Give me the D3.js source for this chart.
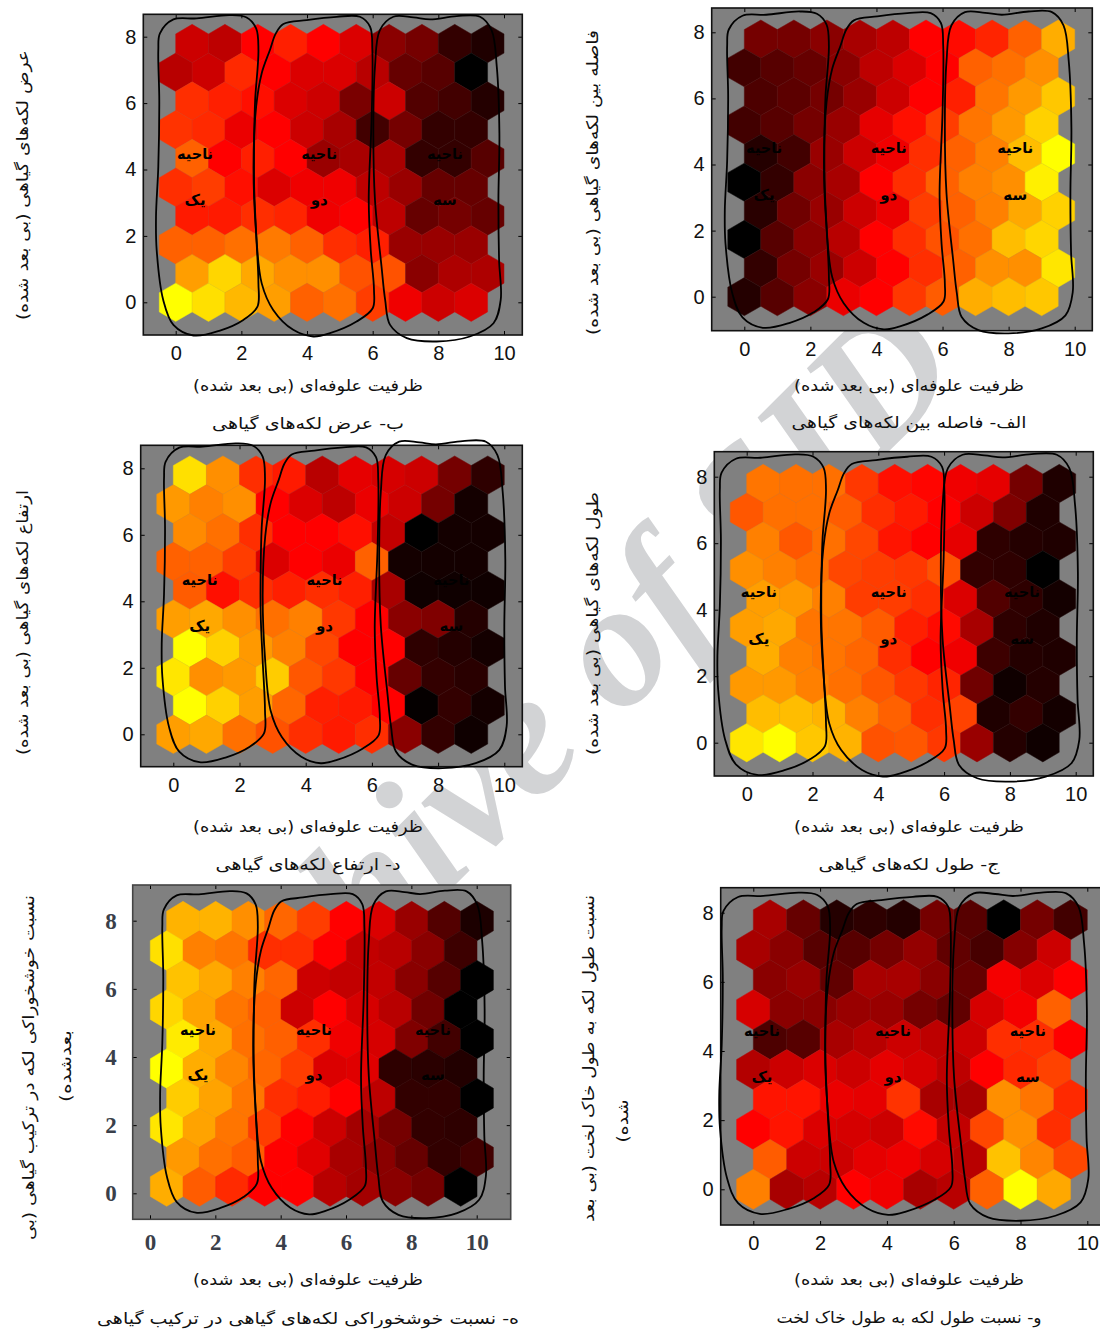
<!DOCTYPE html>
<html lang="fa">
<head>
  <meta charset="utf-8" />
  <title>SOM planes</title>
  <script src="https://d3js.org/d3.v7.min.js"></script>
  <style>
    html, body { margin: 0; padding: 0; background: #fff; overflow: hidden; }
    svg { display: block; }
    .ax text { font-family: "Liberation Sans", Arial, sans-serif; font-size: 20px; fill: #111; }
    .axE text { font-family: "Liberation Serif", serif; font-size: 23px; font-weight: bold; fill: #3a3f4a; }
    .fa { font-family: "DejaVu Sans", sans-serif; direction: rtl; fill: #111; }
  </style>
</head>
<body>
<div id="chart"></div>
<script>
// colour value of every hexagon, 0 = black, 50 = red, 100 = yellow
// rows run from the top of the map down to y = 0
const planeA = [
  [23,23,27,33,37,50,52,57,69,84],
  [13,17,20,27,37,43,50,69,72,78],
  [15,18,23,30,40,50,56,73,80,89],
  [13,17,23,30,45,53,62,73,80,91],
  [7,13,30,40,47,59,69,75,87,100],
  [0,10,27,33,50,59,69,75,78,97],
  [8,22,30,40,46,62,69,75,83,91],
  [0,17,27,36,50,59,66,72,87,92],
  [10,23,30,40,50,59,69,78,78,95],
  [7,17,27,46,50,61,68,84,87,89]
];
const planeB = [
  [40,37,50,56,50,43,27,23,10,6],
  [36,40,58,50,43,43,36,20,17,0],
  [59,56,53,43,40,24,40,16,13,7],
  [60,58,46,50,40,33,13,23,10,10],
  [69,50,56,50,30,33,33,10,10,17],
  [59,62,53,43,47,47,37,30,20,20],
  [55,55,59,57,47,50,37,20,23,20],
  [69,69,72,74,69,59,56,30,30,30],
  [81,92,83,78,78,66,66,27,34,34],
  [100,94,86,81,69,72,62,47,40,43]
];
const planeC = [
  [73,72,72,61,53,51,47,45,23,6],
  [67,72,72,68,59,55,50,40,25,6],
  [75,67,72,64,54,50,45,9,7,6],
  [78,75,72,64,62,61,66,10,9,0],
  [81,80,75,62,62,59,43,16,9,4],
  [81,83,73,73,68,56,52,33,9,6],
  [84,75,73,70,59,50,47,12,7,6],
  [80,80,75,72,67,61,57,22,3,7],
  [87,87,85,75,69,59,63,6,10,4],
  [95,100,89,85,66,67,61,30,7,3]
];
const planeD = [
  [94,78,59,55,36,45,42,40,23,9],
  [80,75,78,50,43,37,46,40,23,4],
  [77,72,59,50,50,53,38,0,4,4],
  [69,69,62,43,50,46,69,4,4,4],
  [68,53,59,56,59,56,33,3,3,3],
  [81,83,78,72,75,61,50,27,25,7],
  [100,91,80,75,64,50,50,9,7,4],
  [95,78,80,90,67,61,50,20,10,8],
  [100,91,81,70,56,55,50,1,10,4],
  [81,83,72,66,59,55,59,27,10,3]
];
const planeE = [
  [85,85,78,70,62,50,43,30,16,6],
  [94,75,73,59,59,50,38,36,27,12],
  [88,83,75,70,40,38,38,27,17,0],
  [92,82,73,69,40,50,42,36,22,0],
  [96,83,72,69,59,47,42,25,13,0],
  [100,84,76,70,62,43,44,9,8,7],
  [90,82,73,59,55,50,37,10,10,0],
  [95,82,73,62,50,40,32,23,10,9],
  [80,72,68,50,44,33,27,20,10,13],
  [84,68,58,51,50,36,32,27,23,0]
];
const planeF = [
  [33,20,7,9,7,23,17,0,23,13],
  [33,27,17,17,23,29,19,14,26,40],
  [27,30,19,33,33,27,20,48,43,50],
  [42,27,27,30,30,23,19,42,48,69],
  [15,17,33,36,40,37,40,59,59,50],
  [35,40,43,40,45,42,37,50,58,63],
  [54,54,46,45,60,33,33,78,73,58],
  [50,54,43,42,40,52,38,64,78,59],
  [68,40,40,45,47,42,36,88,76,64],
  [75,33,36,50,47,33,36,69,100,83]
];

const xTicks = [0, 2, 4, 6, 8, 10];
const yTicks = [0, 2, 4, 6, 8];

// hand drawn regions, in map units
const regionOne = [[-.48,8.10],[-.07,8.52],[.64,8.55],[1.65,8.65],[2.16,8.58],[2.45,8.25],[2.52,7.60],[2.42,6.09],[2.39,4.89],[2.39,3.48],[2.45,2.08],[2.52,.57],[2.49,-.13],[2.06,-.53],[1.35,-.85],[.54,-1.0],[-.07,-.68],[-.38,.07],[-.58,1.58],[-.60,2.58],[-.53,4.09],[-.50,6.09],[-.53,7.60]];
const regionTwo = [[3.05,8.10],[3.28,8.38],[3.99,8.50],[4.90,8.60],[5.61,8.60],[5.92,8.30],[5.99,7.60],[5.97,5.59],[5.88,3.08],[5.94,1.58],[6.04,.37],[6.00,-.18],[5.51,-.58],[4.70,-.93],[4.19,-1.03],[3.58,-.83],[2.97,-.23],[2.62,.57],[2.45,2.08],[2.37,4.09],[2.45,5.89],[2.62,6.90],[2.87,7.60]];
const regionThree = [[6.22,8.20],[6.63,8.60],[7.24,8.58],[7.75,8.52],[8.56,8.62],[9.27,8.60],[9.62,8.20],[9.78,7.10],[9.86,5.09],[9.83,3.08],[9.85,1.28],[9.90,.07],[9.68,-.63],[8.96,-1.03],[7.95,-1.18],[7.04,-1.08],[6.53,-.68],[6.38,.07],[6.27,1.07],[6.07,3.08],[6.02,5.09],[6.07,7.10]];

const upperWord = "ناحیه";
const lowerWords = ["یک", "دو", "سه"];
const xTitle = "ظرفیت علوفه‌ای (بی بعد شده)";

const panels = [
  { values: planeB, frame: [143.3, 522.3, 14.3, 335], xr: [175.7, 504], yr: [302.3, 36.7],
    boxes: [[-.60,2.52,8.65,-1.0],[2.37,6.04,8.60,-1.03],[6.02,9.90,8.62,-1.18]],
    labelX: [.59,4.37,8.2], labelY: [4.47,3.08],
    yTitle: ["عرض لکه‌های گیاهی (بی بعد شده)"], yTitleAt: [[22,185]], yTitleLen: [270],
    titleAt: [308,385], caption: "ب- عرض لکه‌های گیاهی", captionAt: [308,423], captionLen: 192 },
  { values: planeA, frame: [711.7, 1092.3, 8, 330.7], xr: [744.3, 1074.7], yr: [296.7, 32.3],
    boxes: [[-.59,2.56,8.63,-.94],[2.41,6.07,8.58,-.99],[6.07,9.94,8.63,-1.11]],
    labelX: [.6,4.37,8.2], labelY: [4.5,3.07],
    yTitle: ["فاصله بین لکه‌های گیاهی (بی بعد شده)"], yTitleAt: [[592,182.5]], yTitleLen: [305],
    titleAt: [909,385], caption: "الف- فاصله بین لکه‌های گیاهی", captionAt: [909,422], captionLen: 235 },
  { values: planeD, frame: [140.7, 522.3, 445.3, 766.7], xr: [173.3, 504.3], yr: [734.3, 468.3],
    boxes: [[-.35,2.77,8.75,-.84],[2.70,6.24,8.63,-.87],[6.22,10.07,8.82,-1.02]],
    labelX: [.8,4.57,8.4], labelY: [4.64,3.27],
    yTitle: ["ارتفاع لکه‌های گیاهی (بی بعد شده)"], yTitleAt: [[22,622.5]], yTitleLen: [265],
    titleAt: [308,826], caption: "د- ارتفاع لکه‌های گیاهی", captionAt: [308,864], captionLen: 185 },
  { values: planeC, frame: [714.3, 1093.3, 451.7, 776], xr: [746.7, 1075.7], yr: [742.7, 476.7],
    boxes: [[-.89,2.41,8.67,-.97],[2.25,6.06,8.60,-1.02],[5.90,10.11,8.68,-1.17]],
    labelX: [.37,4.32,8.37], labelY: [4.53,3.13],
    yTitle: ["طول لکه‌های گیاهی (بی بعد شده)"], yTitleAt: [[592,623.5]], yTitleLen: [263],
    titleAt: [909,826], caption: "ج- طول لکه‌های گیاهی", captionAt: [909,864], captionLen: 181 },
  { values: planeE, frame: [132.7, 510.7, 885, 1219.3], xr: [150, 476.7], yr: [1193.3, 920.7],
    shiftX: .51, shiftY: .196, blurred: true,
    boxes: [[.31,3.30,8.87,-.57],[3.16,6.61,8.78,-.62],[6.65,10.28,8.88,-.73]],
    labelX: [1.47,5.02,8.66], labelY: [4.79,3.46],
    yTitle: ["نسبت خوشخوراکی لکه در ترکیب گیاهی (بی", "بعدشده)"], yTitleAt: [[28,1067.5],[65,1066]], yTitleLen: [345,72],
    titleAt: [308,1279], caption: "ه- نسبت خوشخوراکی لکه‌های گیاهی در ترکیب گیاهی", captionAt: [308,1318], captionLen: 422 },
  { values: planeF, frame: [720.7, 1105, 887.7, 1225], xr: [753.3, 1087.3], yr: [1189.3, 912.7],
    boxes: [[-1.02,2.30,8.58,-.71],[2.15,5.96,8.46,-.74],[5.96,10.03,8.58,-.91]],
    labelX: [.26,4.18,8.22], labelY: [4.58,3.25],
    yTitle: ["نسبت طول لکه به طول خاک لخت (بی بعد", "شده)"], yTitleAt: [[588,1058.5],[622,1121]], yTitleLen: [327,43],
    titleAt: [909,1279], caption: "و- نسبت طول لکه به طول خاک لخت", captionAt: [909,1317], captionLen: 265 }
];

const xTitleLen = 230;
const titleSize = 16;

const w = 1100;
const h = 1332;

const svg = d3.select("#chart").append("svg")
    .attr("width", w)
    .attr("height", h);

svg.append("defs").append("filter")
    .attr("id", "soft")
    .append("feGaussianBlur")
    .attr("stdDeviation", 0.55);

// faint watermark sits under everything
svg.append("text")
    .attr("transform", "translate(575,765) rotate(-45)")
    .attr("text-anchor", "middle")
    .attr("font-family", "Liberation Serif, serif")
    .attr("font-weight", "bold")
    .attr("font-style", "italic")
    .attr("font-size", 178)
    .attr("fill", "#d2d3d5")
    .text("Archive of SID");

// black -> red -> yellow, same as the hot map
const color = d3.scaleLinear()
    .domain([0, 50, 100])
    .range(["#000000", "#ff0000", "#ffff00"]);

const rowStep = Math.sqrt(3) / 2;
const hexRadius = 1 / Math.sqrt(3);

// small helper for the persian strings, textLength keeps them at the printed width
function faText(parent, str, size, len) {
  const t = parent.append("text")
      .attr("class", "fa")
      .attr("text-anchor", "middle")
      .attr("dominant-baseline", "central")
      .attr("font-size", size)
      .text(str);
  if (len) {
    t.attr("textLength", len).attr("lengthAdjust", "spacingAndGlyphs");
  }
  return t;
}

panels.forEach(p => {
  const x = d3.scaleLinear().domain([0, 10]).range(p.xr);
  const y = d3.scaleLinear().domain([0, 8]).range(p.yr);
  const [left, right, top, bottom] = p.frame;
  const dx = p.shiftX || 0;
  const dy = p.shiftY || 0;

  const g = svg.append("g");

  g.append("rect")
      .attr("x", left)
      .attr("y", top)
      .attr("width", right - left)
      .attr("height", bottom - top)
      .attr("fill", "#808080");

  // flatten rows to one list of cells, row 0 is the top of the map
  const cells = p.values.flatMap((row, r) => row.map((v, c) => {
    const fromBottom = p.values.length - 1 - r;
    return {
      v: v,
      cx: c + dx + (fromBottom % 2 ? 0.5 : 0),
      cy: fromBottom * rowStep + dy
    };
  }));

  const hexLine = d3.line().x(d => x(d[0])).y(d => y(d[1]));
  const hexPath = d => hexLine(d3.range(6).map(k => {
    const a = Math.PI / 6 + k * Math.PI / 3;
    return [d.cx + hexRadius * Math.cos(a), d.cy + hexRadius * Math.sin(a)];
  })) + "Z";

  g.append("g")
      .attr("filter", p.blurred ? "url(#soft)" : null)
      .selectAll("path")
      .data(cells)
      .enter()
      .append("path")
      .attr("d", hexPath)
      .attr("fill", d => color(d.v))
      .attr("stroke", d => d3.interpolateRgb(color(d.v), "#808080")(p.blurred ? 0 : 0.12))
      .attr("stroke-width", 0.5);

  // axes, ticks point inward on all four sides
  const axisClass = p.blurred ? "axE" : "ax";
  const bottomAxis = d3.axisBottom(x).tickValues(xTicks).tickSizeInner(-4).tickSizeOuter(0).tickPadding(p.blurred ? 14 : 11);
  const leftAxis = d3.axisLeft(y).tickValues(yTicks).tickSizeInner(-4).tickSizeOuter(0).tickPadding(p.blurred ? 16 : 7);
  const topAxis = d3.axisTop(x).tickValues(xTicks).tickSizeInner(-4).tickSizeOuter(0).tickFormat("");
  const rightAxis = d3.axisRight(y).tickValues(yTicks).tickSizeInner(-4).tickSizeOuter(0).tickFormat("");

  [[bottomAxis, 0, bottom], [leftAxis, left, 0], [topAxis, 0, top], [rightAxis, right, 0]].forEach(a => {
    const axisG = g.append("g")
        .attr("class", axisClass)
        .attr("transform", `translate(${a[1]},${a[2]})`)
        .call(a[0]);
    axisG.select(".domain").remove();
  });

  g.append("rect")
      .attr("x", left)
      .attr("y", top)
      .attr("width", right - left)
      .attr("height", bottom - top)
      .attr("fill", "none")
      .attr("stroke", p.blurred ? "#444" : "#111")
      .attr("stroke-width", 1.6);

  // the three regions, each shape is fitted into its box
  const outline = d3.line().curve(d3.curveCatmullRomClosed.alpha(0.5));
  [regionOne, regionTwo, regionThree].forEach((shape, i) => {
    const box = p.boxes[i];
    const fitX = d3.scaleLinear().domain(d3.extent(shape, d => d[0])).range([box[0], box[1]]);
    const fitY = d3.scaleLinear().domain(d3.extent(shape, d => d[1])).range([box[3], box[2]]);
    g.append("path")
        .attr("d", outline(shape.map(d => [x(fitX(d[0])), y(fitY(d[1]))])))
        .attr("fill", "none")
        .attr("stroke", "#000")
        .attr("stroke-width", 1.8);

    faText(g, upperWord, 15, 36)
        .attr("x", x(p.labelX[i]))
        .attr("y", y(p.labelY[0]))
        .attr("font-weight", "bold")
        .style("fill", "#000");

    faText(g, lowerWords[i], 15)
        .attr("x", x(p.labelX[i]))
        .attr("y", y(p.labelY[1]))
        .attr("font-weight", "bold")
        .style("fill", "#000");
  });

  // titles
  faText(g, xTitle, titleSize, xTitleLen)
      .attr("x", p.titleAt[0])
      .attr("y", p.titleAt[1]);

  faText(g, p.caption, titleSize, p.captionLen)
      .attr("x", p.captionAt[0])
      .attr("y", p.captionAt[1]);

  p.yTitle.forEach((t, i) => {
    faText(g, t, titleSize, p.yTitleLen[i])
        .attr("transform", `translate(${p.yTitleAt[i][0]},${p.yTitleAt[i][1]}) rotate(-90)`);
  });
});
</script>
</body>
</html>
